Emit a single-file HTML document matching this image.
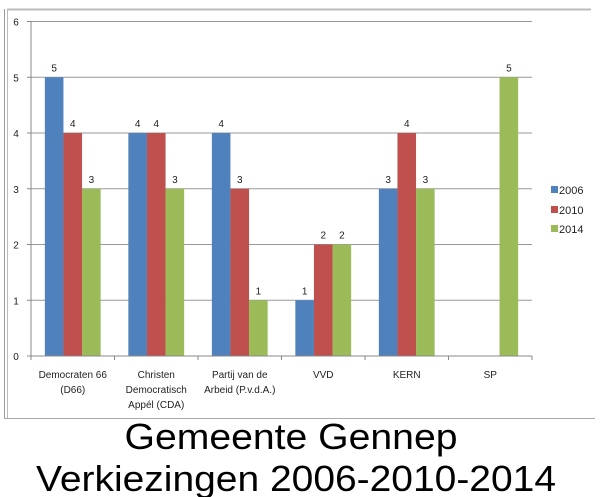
<!DOCTYPE html>
<html><head><meta charset="utf-8"><style>
html,body{margin:0;padding:0;background:#fff;}
svg{display:block;font-family:"Liberation Sans",sans-serif;}
</style></head><body>
<svg width="600" height="497" viewBox="0 0 600 497">
<g>
<line x1="7" y1="9.5" x2="591" y2="9.5" stroke="#bbb" stroke-width="2"/>
<line x1="4.5" y1="9" x2="4.5" y2="418" stroke="#999" stroke-width="1"/>
<line x1="7.5" y1="9" x2="7.5" y2="418" stroke="#bbb" stroke-width="1"/>
<line x1="4" y1="418.5" x2="595" y2="418.5" stroke="#aaa" stroke-width="1"/>
</g>
<g id="grid"></g>
<g id="bars"></g>
<g id="axes"></g>
<g font-size="11" fill="#222">
<g><rect x="551" y="186" width="7" height="7" fill="#4f81bd"/><text x="559" y="194">2006</text></g>
<g><rect x="551" y="206" width="7" height="7" fill="#c0504d"/><text x="559" y="214">2010</text></g>
<g><rect x="551" y="225" width="7" height="7" fill="#9bbb59"/><text x="559" y="233">2014</text></g>
</g>
<text x="291" y="449" font-size="36" text-anchor="middle" textLength="333" lengthAdjust="spacingAndGlyphs">Gemeente Gennep</text>
<text x="296" y="491" font-size="36" text-anchor="middle" textLength="520" lengthAdjust="spacingAndGlyphs">Verkiezingen 2006-2010-2014</text>
</svg>
<script>
const categories=[["Democraten 66","(D66)"],["Christen","Democratisch","Appél (CDA)"],["Partij van de","Arbeid (P.v.d.A.)"],["VVD"],["KERN"],["SP"]];
const s2006=[5,4,4,1,3,0];
const s2010=[4,4,3,2,4,0];
const s2014=[3,3,1,2,3,5];
const yTicks=[0,1,2,3,4,5,6];
const NS="http://www.w3.org/2000/svg";
const X0=31,X1=532,Y0=356,Y6=21.5;
const cw=(X1-X0)/categories.length;
function y(v){return Y0-(Y0-Y6)*v/6;}
function mk(tag,attrs,parent){const e=document.createElementNS(NS,tag);for(const k in attrs)e.setAttribute(k,attrs[k]);parent.appendChild(e);return e;}
const grid=document.getElementById('grid'),bars=document.getElementById('bars'),axes=document.getElementById('axes');
yTicks.forEach(t=>{
 if(t>0){const l=mk('line',{x1:X0,x2:X1,y1:y(t),y2:y(t),stroke:'#999','stroke-width':1},grid);
 
 }
 const tx=mk('text',{x:16,y:y(t)+4,'font-size':10,fill:'#222','text-anchor':'middle'},axes);tx.textContent=t;
 
 
 mk('line',{x1:X0-4,x2:X0,y1:y(t),y2:y(t),stroke:'#888'},axes);
});
mk('line',{x1:X0,x2:X0,y1:Y6,y2:Y0,stroke:'#888'},axes);
mk('line',{x1:X0,x2:X1,y1:Y0,y2:Y0,stroke:'#888'},axes);
const series=[[s2006,'#4f81bd','2006'],[s2010,'#c0504d','2010'],[s2014,'#9bbb59','2014']];
const bw=18.6;
categories.forEach((c,i)=>{
 const cx=X0+cw*i;
 mk('line',{x1:cx+cw,x2:cx+cw,y1:Y0,y2:Y0+4,stroke:'#888'},axes);
 if(i==0)mk('line',{x1:cx,x2:cx,y1:Y0,y2:Y0+4,stroke:'#888'},axes);
 const gx=cx+cw/2-bw*1.5;
 series.forEach((s,j)=>{
  const v=s[0][i];
  if(v>0){
   const r=mk('rect',{x:gx+bw*j,y:y(v),width:bw,height:Y0-y(v),fill:s[1]},bars);
   
   
   const t=mk('text',{x:gx+bw*j+bw/2,y:y(v)-6,'font-size':10,fill:'#222','text-anchor':'middle'},bars);t.textContent=v;
   
   
  }
 });
 c.forEach((ln,k)=>{
  const t=mk('text',{x:cx+cw/2,y:378+k*15,'font-size':10,fill:'#222','text-anchor':'middle'},axes);t.textContent=ln;
  
  
 });
});
</script>
</body></html>
